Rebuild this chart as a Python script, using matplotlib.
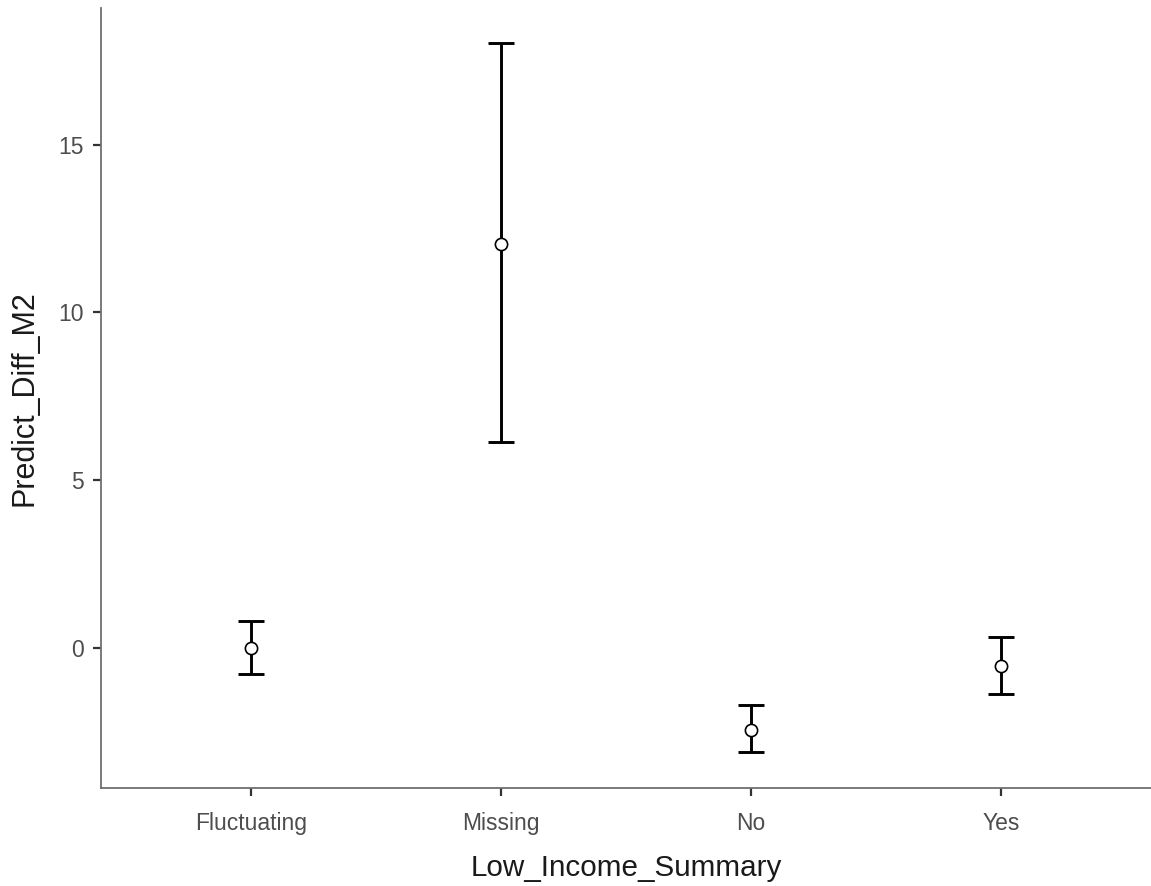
import numpy as np
import matplotlib.pyplot as plt

# group means with lower / upper interval bounds
groups = ["Fluctuating", "Missing", "No", "Yes"]
means = [0.00, 12.05, -2.45, -0.54]
lower = [-0.78, 6.15, -3.12, -1.38]
upper = [0.80, 18.03, -1.71, 0.33]

plt.rcParams['font.family'] = ['Liberation Sans', 'DejaVu Sans']

fig = plt.figure(figsize=(11.51, 8.86), dpi=100)
ax = fig.add_axes([100.7 / 1151, 98 / 886, 1 - 100.7 / 1151, 780 / 886])

x = np.arange(1, len(groups) + 1)
means = np.array(means)
yerr = [means - np.array(lower), np.array(upper) - means]

ax.errorbar(x, means, yerr=yerr, fmt='none', ecolor='black', elinewidth=2.1,
            capsize=9.3, capthick=2.1, zorder=2)
ax.plot(x, means, 'o', ms=8.8, mfc='white', mec='black', mew=1.2, zorder=3)

ax.set_xlim(0.4, 4.6)
ax.set_ylim(-4.18, 19.08)
ax.set_xticks(x)
ax.set_xticklabels(groups)
ax.set_yticks([0, 5, 10, 15])

for side in ['top', 'right']:
    ax.spines[side].set_visible(False)
for side in ['left', 'bottom']:
    ax.spines[side].set_color('#6f6f6f')
    ax.spines[side].set_linewidth(1.3)

ax.tick_params(axis='both', length=6, width=1.6, color='#333333',
               labelcolor='#4d4d4d', labelsize=16.5)
ax.tick_params(axis='x', pad=11)
ax.tick_params(axis='y', pad=6)

ax.set_xlabel("Low_Income_Summary", fontsize=21.3, color='#1a1a1a', labelpad=14)
ax.set_ylabel("Predict_Diff_M2", fontsize=22, color='#1a1a1a', labelpad=14)

fig.savefig("out.png", dpi=100)
